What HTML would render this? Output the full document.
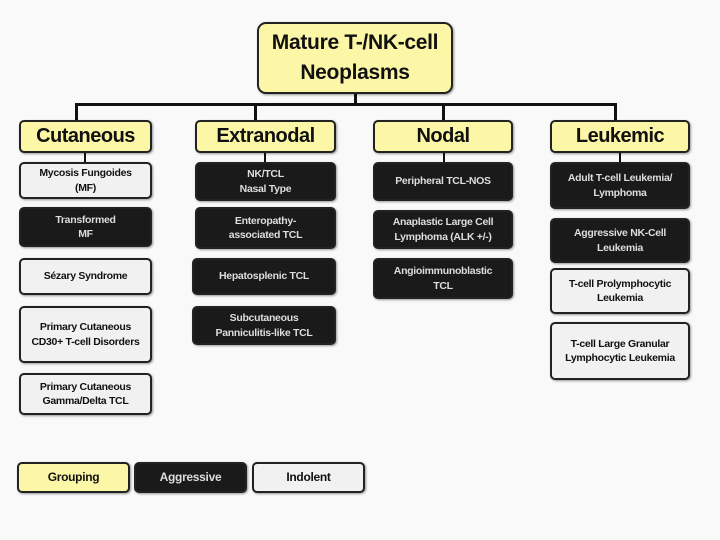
<!DOCTYPE html>
<html><head><style>
body{margin:0;width:720px;height:540px;background:#f9f9f9;position:relative;font-family:"Liberation Sans",sans-serif;overflow:hidden}
.b{position:absolute;box-sizing:border-box;border:2px solid #222;border-radius:5px;display:flex;align-items:center;justify-content:center;text-align:center;font-weight:bold;font-size:10.5px;line-height:1.35;letter-spacing:-0.3px;box-shadow:1px 1px 2px rgba(0,0,0,.4)}
.y{background:#fbf7a6;color:#111}
.d{background:#1a1a1a;color:#ddd}
.l{background:#f1f1f1;color:#111}
.g{font-size:20px;letter-spacing:-0.5px}
.ln{position:absolute;background:#111}
</style></head><body>
<div class="ln" style="left:354px;top:93px;width:3px;height:12px"></div>
<div class="ln" style="left:75px;top:103px;width:541px;height:3px"></div>
<div class="ln" style="left:75px;top:103px;width:3px;height:18px"></div>
<div class="ln" style="left:254px;top:103px;width:3px;height:18px"></div>
<div class="ln" style="left:442px;top:103px;width:3px;height:18px"></div>
<div class="ln" style="left:614px;top:103px;width:3px;height:18px"></div>
<div class="ln" style="left:84px;top:152px;width:2px;height:11px"></div>
<div class="ln" style="left:264px;top:152px;width:2px;height:11px"></div>
<div class="ln" style="left:443px;top:152px;width:2px;height:11px"></div>
<div class="ln" style="left:619px;top:152px;width:2px;height:11px"></div>

<div class="b y" style="left:257px;top:22px;width:196px;height:72px;font-size:21px;line-height:1.45;border-radius:9px">Mature T-/NK-cell<br>Neoplasms</div>
<div class="b y g" style="left:19px;top:120px;width:133px;height:33px">Cutaneous</div>
<div class="b y g" style="left:195px;top:120px;width:141px;height:33px">Extranodal</div>
<div class="b y g" style="left:373px;top:120px;width:140px;height:33px">Nodal</div>
<div class="b y g" style="left:550px;top:120px;width:140px;height:33px">Leukemic</div>

<div class="b l" style="left:19px;top:162px;width:133px;height:37px">Mycosis Fungoides<br>(MF)</div>
<div class="b d" style="left:19px;top:207px;width:133px;height:40px">Transformed<br>MF</div>
<div class="b l" style="left:19px;top:258px;width:133px;height:37px">Sézary Syndrome</div>
<div class="b l" style="left:19px;top:306px;width:133px;height:57px">Primary Cutaneous<br>CD30+ T-cell Disorders</div>
<div class="b l" style="left:19px;top:373px;width:133px;height:42px">Primary Cutaneous<br>Gamma/Delta TCL</div>

<div class="b d" style="left:195px;top:162px;width:141px;height:39px">NK/TCL<br>Nasal Type</div>
<div class="b d" style="left:195px;top:207px;width:141px;height:42px">Enteropathy-<br>associated TCL</div>
<div class="b d" style="left:192px;top:258px;width:144px;height:37px">Hepatosplenic TCL</div>
<div class="b d" style="left:192px;top:306px;width:144px;height:39px">Subcutaneous<br>Panniculitis-like TCL</div>

<div class="b d" style="left:373px;top:162px;width:140px;height:39px">Peripheral TCL-NOS</div>
<div class="b d" style="left:373px;top:210px;width:140px;height:39px">Anaplastic Large Cell<br>Lymphoma (ALK +/-)</div>
<div class="b d" style="left:373px;top:258px;width:140px;height:41px">Angioimmunoblastic<br>TCL</div>

<div class="b d" style="left:550px;top:162px;width:140px;height:47px">Adult T-cell Leukemia/<br>Lymphoma</div>
<div class="b d" style="left:550px;top:218px;width:140px;height:45px">Aggressive NK-Cell<br>Leukemia</div>
<div class="b l" style="left:550px;top:268px;width:140px;height:46px">T-cell Prolymphocytic<br>Leukemia</div>
<div class="b l" style="left:550px;top:322px;width:140px;height:58px">T-cell Large Granular<br>Lymphocytic Leukemia</div>

<div class="b y" style="left:17px;top:462px;width:113px;height:31px;font-size:12px">Grouping</div>
<div class="b d" style="left:134px;top:462px;width:113px;height:31px;font-size:12px">Aggressive</div>
<div class="b l" style="left:252px;top:462px;width:113px;height:31px;font-size:12px">Indolent</div>
</body></html>
